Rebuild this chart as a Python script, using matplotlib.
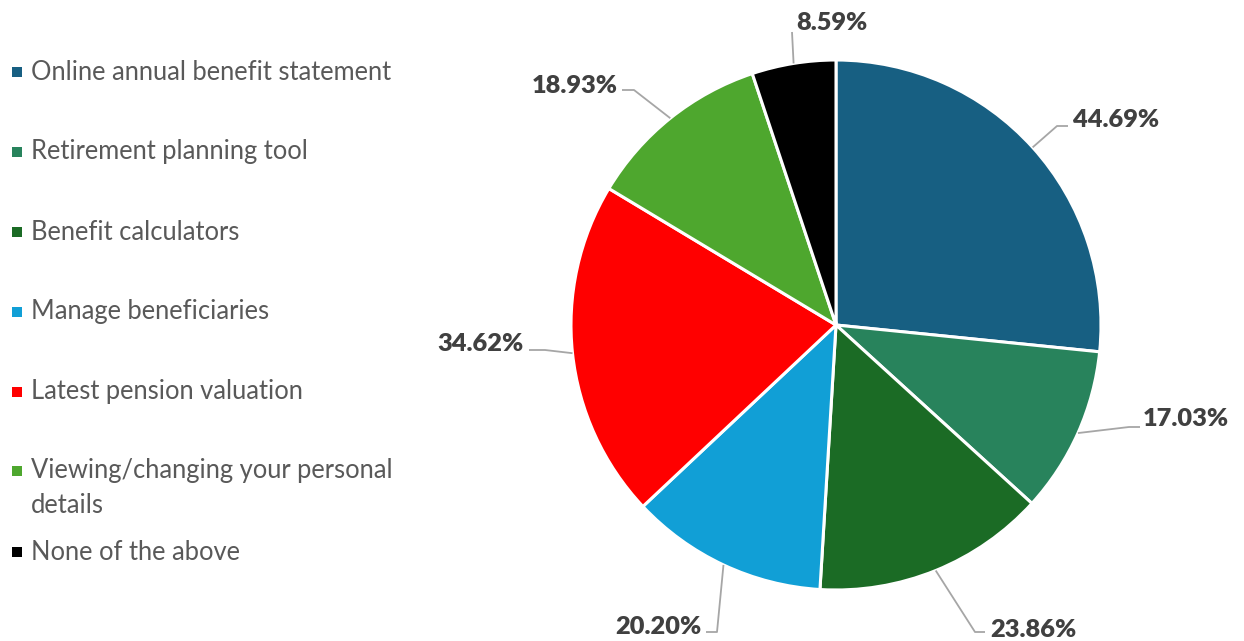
import numpy as np
import matplotlib
matplotlib.use("Agg")
import matplotlib.pyplot as plt

# data
categories = [
    "Online annual benefit statement",
    "Retirement planning tool",
    "Benefit calculators",
    "Manage beneficiaries",
    "Latest pension valuation",
    "Viewing/changing your personal\ndetails",
    "None of the above",
]
values = [44.69, 17.03, 23.86, 20.20, 34.62, 18.93, 8.59]
colors = ["#175F82", "#28835C", "#1B6B25", "#119FD6", "#FF0000", "#4EA72E", "#000000"]

W, H = 1244, 641
fig = plt.figure(figsize=(W / 100, H / 100), dpi=100)
ax = fig.add_axes([0, 0, 1, 1])

cx, cy, r = 836, H - 325, 265
wedges, _ = ax.pie(values, colors=colors, startangle=90, counterclock=False,
                   center=(cx, cy), radius=r, frame=True,
                   wedgeprops=dict(edgecolor="white", linewidth=2.2))
ax.set_xlim(0, W)
ax.set_ylim(0, H)
ax.set_aspect("equal")
ax.axis("off")

# label layout (image px): text anchor, ha, leader line end, elbow
label_layout = [
    ((1073, 120), "left", (1068, 126), (1057, 126)),
    ((1143, 419), "left", (1140, 427), (1129, 427)),
    ((990, 630), "left", (985, 632), (975, 632)),
    ((701, 627), "right", (706, 632), (717, 632)),
    ((524, 344), "right", (529, 350), (545, 350)),
    ((618, 86), "right", (622, 90), (634, 90)),
    ((796, 23), "left", (792, 32), (792, 32)),
]

for w, v, (tpos, ha, lend, elbow) in zip(wedges, values, label_layout):
    mid = np.deg2rad((w.theta1 + w.theta2) / 2)
    ex, ey = cx + r * np.cos(mid), cy + r * np.sin(mid)
    ax.plot([ex, elbow[0], lend[0]], [ey, H - elbow[1], H - lend[1]],
            color="#A6A6A6", lw=1.3, solid_capstyle="butt")
    ax.text(tpos[0], H - tpos[1], f"{v:.2f}%", ha=ha, va="center",
            fontsize=18.3, fontweight="heavy", color="#404040", family="Lato")

# legend
legend_y = [72, 152, 232, 312, 392, 488, 552]
for lab, col, y in zip(categories, colors, legend_y):
    ax.scatter([17], [H - (y if "\n" not in lab else 471)], marker="s", s=60,
               color=col, linewidths=0)
    ax.text(31, H - y, lab, ha="left", va="center", fontsize=18.4,
            color="#595959", family="Lato", linespacing=1.5)

fig.savefig("out.png", dpi=100)
